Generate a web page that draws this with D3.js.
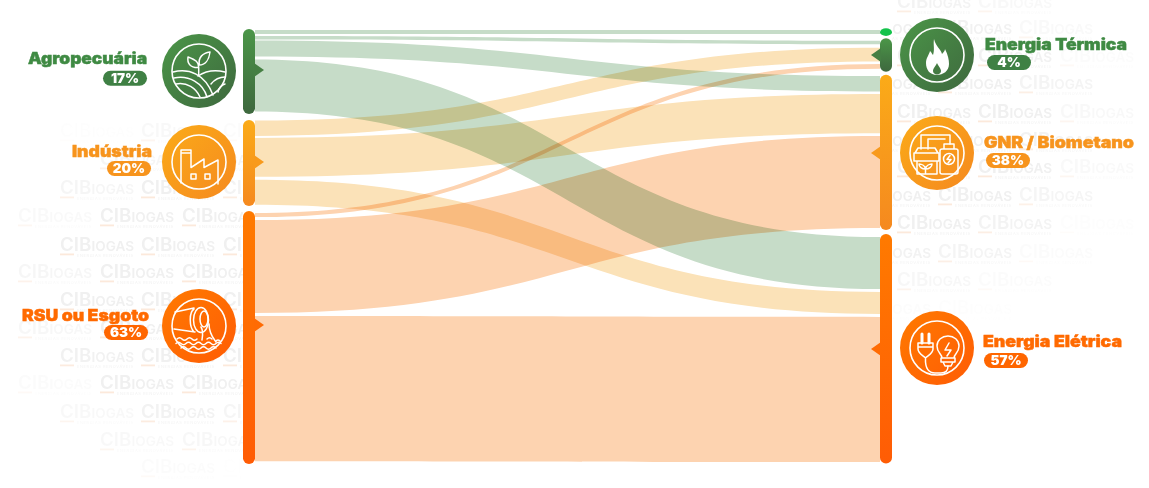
<!DOCTYPE html>
<html lang="pt"><head><meta charset="utf-8">
<script src="https://cdn.jsdelivr.net/npm/d3@7"></script>
<style>html,body{margin:0;padding:0;background:#fff}svg{display:block}text{font-family:Inter,"Open Sans",sans-serif}</style>
</head><body><div id="chart"></div>
<script>
// ---- data ----
const sourceNames = ["Agropecuária", "Indústria", "RSU ou Esgoto"];
const sourceShares = [17, 20, 63];
const targetNames = ["Energia Térmica", "GNR / Biometano", "Energia Elétrica"];
const targetShares = [4, 38, 57];
const linkSources = [0, 0, 0, 0, 1, 1, 1, 2, 2, 2];
const linkTargets = [0, 1, 2, 3, 1, 2, 3, 1, 2, 3];      // target 0 is the small unlabelled pill
const linkValuesAtSource = [1.04, 0.92, 4.15, 13.5, 4.0, 10.1, 6.5, 1.05, 24.15, 37.7];
const linkValuesAtTarget = [1.04, 0.92, 4.0, 13.5, 3.55, 10.2, 5.7, 1.2, 23.9, 37.7];

// ---- layout ----
const W = 1149, H = 488;
const leftX = 255, rightX = 880, barW = 12;
const valueScale = d3.scaleLinear().domain([0, 100]).range([0, 385]);
const sourceTops = [30, 120.5, 213];
const sourceGaps = [[0, 2, 1, 3], [0, 2, 3], [0, 3, 3]];
const targetTops = [30, 40.7, 76, 237];
const targetGaps = [[0], [0, 3.5, 2.7], [0, 2.7, 2.7], [0, 3, 3]];
const sourceBars = [[29, 114], [120, 206], [211, 464]];
const targetBars = [[28.3, 36], [38.3, 71.7], [74.7, 230], [234, 463.5]];
const colorKeys = ["green", "yellow", "orange"];
const linkFill = {green: "#c6dcc8", yellow: "#fbe2b8", orange: "#fdd3b0"};
const textFill = {green: "#3f8a43", yellow: "#f7941d", orange: "#ff6a00"};
const gradStops = {green: ["#4b9648", "#3e683e"], yellow: ["#fbab18", "#f5891f"], orange: ["#ff7a00", "#ff5c05"]};
const targetColors = ["green", "yellow", "orange"];
const sourceCircles = [71, 162, 326], targetCircles = [55, 153, 348];
const sourcePointers = [70, 162, 325], targetPointers = [55, 153, 349];
const sourceLabels = [
  {x0: 28, x1: 147, base: 64, px: 103, pw: 44, py: 70.7},
  {x0: 72, x1: 152, base: 157, px: 107, pw: 44, py: 161},
  {x0: 22, x1: 149, base: 321, px: 104, pw: 44, py: 325}];
const targetLabels = [
  {x0: 985, x1: 1127, base: 50, px: 987, pw: 44, py: 55},
  {x0: 984, x1: 1134, base: 148, px: 986, pw: 44, py: 153},
  {x0: 983, x1: 1122, base: 347, px: 984, pw: 44, py: 353}];

const svg = d3.select("#chart").append("svg").attr("width", W).attr("height", H).attr("viewBox", [0, 0, W, H]);
const defs = svg.append("defs");
colorKeys.forEach(k => {
  const mk = (id, x2, y2) => {
    const g = defs.append("linearGradient").attr("id", id).attr("x1", 0).attr("y1", 0).attr("x2", x2).attr("y2", y2);
    g.append("stop").attr("offset", 0).attr("stop-color", gradStops[k][0]);
    g.append("stop").attr("offset", 1).attr("stop-color", gradStops[k][1]);
  };
  mk("bar-" + k, 0, 1);
  mk("disc-" + k, 1, 1);
});
defs.append("clipPath").attr("id", "wm-clip").selectAll("rect")
  .data([[0, 243], [892, 257]]).join("rect")
  .attr("x", d => d[0]).attr("y", 0).attr("width", d => d[1]).attr("height", H);

// ---- watermark ----
const wmLeftRows = [131, 159, 188, 216, 245, 272, 300, 328, 356, 383, 412, 440, 467];
const wmRightRows = [2, 28, 56, 83, 112, 140, 167, 195, 223, 252, 280, 308];
const wmItems = [];
wmLeftRows.forEach((y, i) => (i % 2 ? [18, 100, 182] : [60, 141, 223]).forEach(x => wmItems.push({x, y, cx: 190, cy: 290, rx: 170, ry: 185})));
wmRightRows.forEach((y, i) => (i % 2 ? [857, 938, 1019] : [897, 978, 1060]).forEach(x => wmItems.push({x, y, cx: 900, cy: 130, rx: 230, ry: 185})));
const wm = svg.append("g").attr("clip-path", "url(#wm-clip)");
wmItems.forEach(d => {
  const r = Math.hypot((d.x + 37 - d.cx) / d.rx, (d.y - d.cy) / d.ry);
  const op = Math.min(1, (1.05 - r) * 2.2);
  if (op <= 0) return;
  const g = wm.append("g").attr("transform", `translate(${d.x},${d.y})`).attr("opacity", op);
  const t = g.append("text").attr("y", 6).attr("fill", "#f0f0f0").attr("font-weight", 600)
    .attr("textLength", 74).attr("lengthAdjust", "spacingAndGlyphs");
  t.append("tspan").attr("font-size", 18).text("CIB");
  t.append("tspan").attr("font-size", 13).text("IOGAS");
  g.append("rect").attr("x", 0).attr("y", 8.5).attr("width", 14).attr("height", 1.8).attr("fill", "#fce9db");
  g.append("text").attr("x", 17).attr("y", 11.5).attr("font-size", 4).attr("fill", "#f1f1f1")
    .attr("textLength", 56).text("ENERGIAS RENOVÁVEIS");
});

// ---- link stacks ----
const sourceCursor = sourceTops.slice(), targetCursor = targetTops.slice();
const sourceSeen = sourceNames.map(() => 0), targetSeen = [0, 0, 0, 0];
const links = linkSources.map((s, i) => {
  const t = linkTargets[i];
  const sv = valueScale(linkValuesAtSource[i]), tv = valueScale(linkValuesAtTarget[i]);
  sourceCursor[s] += sourceGaps[s][sourceSeen[s]++];
  targetCursor[t] += targetGaps[t][targetSeen[t]++];
  const d = {s, t, y0a: sourceCursor[s], y0b: sourceCursor[s] + sv, y1a: targetCursor[t], y1b: targetCursor[t] + tv};
  sourceCursor[s] += sv; targetCursor[t] += tv;
  return d;
});
const edge = d3.linkHorizontal().x(p => p[0]).y(p => p[1]);
const ribbon = d => {
  const top = edge({source: [leftX, d.y0a], target: [rightX, d.y1a]});
  const bot = edge({source: [rightX, d.y1b], target: [leftX, d.y0b]});
  return top + "L" + bot.slice(1) + "Z";
};
svg.append("g").style("isolation", "isolate").selectAll("path").data(links).join("path")
  .attr("d", ribbon).attr("fill", d => linkFill[colorKeys[d.s]]).style("mix-blend-mode", "multiply");

// ---- node bars and pointers ----
const bars = svg.append("g");
const bar = (x, e, fill) => bars.append("rect").attr("x", x).attr("y", e[0]).attr("width", barW)
  .attr("height", e[1] - e[0]).attr("rx", 6).attr("ry", Math.min(5.8, (e[1] - e[0]) / 2)).attr("fill", fill);
sourceBars.forEach((e, i) => {
  const k = colorKeys[i];
  bar(leftX - barW, e, `url(#bar-${k})`);
  const y = sourcePointers[i];
  bars.append("path").attr("d", d3.line()([[leftX - 1, y - 7], [leftX + 9, y], [leftX - 1, y + 7]])).attr("fill", d3.interpolateRgb(...gradStops[k])(0.5));
});
targetBars.forEach((e, i) => {
  if (i === 0) { bar(rightX, e, "#13c34b"); return; }
  const k = targetColors[i - 1];
  bar(rightX, e, `url(#bar-${k})`);
  const y = targetPointers[i - 1];
  bars.append("path").attr("d", d3.line()([[rightX + 1, y - 7], [rightX - 9, y], [rightX + 1, y + 7]])).attr("fill", d3.interpolateRgb(...gradStops[k])(0.5));
});

// ---- icons ----
const icons = {
  farm: `<path d="M-.3,-3.5C-.3,-9 -3,-11 -11,-14C-12,-8 -9,-3 -.3,-3.5ZM.3,-6C6,-6 10,-11 11,-19C4,-18 -1,-14 .3,-6ZM-.3,-4V4"/>
    <path d="M-26,1C-10,-3 6,3 14,24M-25,7C-10,4 4,12 8,26M-23,13C-12,11 -3,17 1,26M-1,5C8,-1 18,-1 26,1M12,13C16,8 21,6 26,6M19,21C20,17 23,14 26,13"/>`,
  factory: `<path d="M-18,21V-12H-8V5.5L5,-3V5.5L19,-2V22M-18,-9H-8"/>
    <rect x="-8" y="12" width="5" height="5"/><rect x="6" y="12" width="5" height="5"/>`,
  pipe: `<ellipse cx="2" cy="-6" rx="7.500" ry="12.500"/><ellipse cx="5" cy="-7" rx="4" ry="8"/>
    <path d="M-24,-14L-5,-18M-25,3L-4,6M-5,-17C-10,-14 -10,1 -5,6M2,1C5,6 3,12 3,14M10,-2C10,8 15,13 17,16"/>
    <path d="M-22,13q2.500,-2.500 5,0t5,0t5,0t5,0M8,13q2.500,-2.500 5,0M17,15q2,-2 4,0M-23,17.500q2.500,-2.500 5,0t5,0t5,0t5,0t5,0t5,0t5,0t5,0t5,0M-18,22q2.500,-2.500 5,0t5,0t5,0t5,0t5,0t5,0t5,0"/>`,
  flame: `<path class="solid" fill-rule="evenodd" d="M-3,-16C-1,-8 4,-6 5,-1C7,-3 8,-5 8,-6C11,0 12,5 12,9C12,16 6,20 0,20C-7,20 -11,15 -11,8C-11,3 -8,0 -7,-4C-5,-2 -5,-1 -4,0C-2,-5 -4,-11 -3,-16ZM0,8C-1,11 -4,13 -4,16C-4,18 -2,19.500 0,19.500C2,19.500 4,18 4,16C4,13 1,11 0,8Z"/>`,
  biogas: `<path d="M-16,-4V-18H13V-9M-9,-4V-14H8"/>
    <path d="M-22,0L-19,-5H-2L1,0ZM-23,0H2V8H-23ZM-20,8V21H0V8M-11.500,20V14M-11.500,16C-12,13 -15,11 -18,11C-18,14 -15,16 -11.500,16ZM-11.500,16C-11,13 -8,11 -5,11C-5,14 -8,16 -11.500,16Z"/>
    <path d="M7,-9H17V-4H7ZM5,-4H19C20,-4 21,-3 21,-2V19C21,20 20,21 19,21H5C4,21 3,20 3,19V-2C3,-3 4,-4 5,-4Z"/>
    <circle cx="12" cy="6" r="5.500"/><path d="M13,2.500L10,6.500H14L11,10"/>`,
  power: `<path d="M-15,-14V-5M-8,-14V-5" style="stroke-width:3"/>
    <path d="M-19,-5H-4V1C-4,5 -8,7 -11.500,10C-15,7 -19,5 -19,1ZM-19,-1H-4M-11.500,10C-12,21 -8,25 -2,25H4C9,25 11,22 11,18"/>
    <path d="M5,10C5,6 0,5 0,-2C0,-8 5,-12 11,-12C17,-12 22,-8 22,-2C22,5 17,6 17,10ZM4,10H18V14H4ZM6,14H16L14,18H8ZM12,-5L8,2H14L10,8"/>`
};
const disc = (cx, cy, k, icon) => {
  const g = svg.append("g").attr("transform", `translate(${cx},${cy})`);
  g.append("circle").attr("r", 37).attr("fill", `url(#disc-${k})`);
  g.append("circle").attr("r", 27).attr("fill", "none").attr("stroke", "#fff").attr("stroke-width", 1.6);
  const ic = g.append("g").attr("fill", "none").attr("stroke", "#fff").attr("stroke-width", 1.5).attr("stroke-linejoin", "round").attr("stroke-linecap", "round").html(icons[icon]);
  ic.selectAll(".solid").attr("fill", "#fff").attr("stroke", "none");
};
["farm", "factory", "pipe"].forEach((ic, i) => disc(199, sourceCircles[i], colorKeys[i], ic));
["flame", "biogas", "power"].forEach((ic, i) => disc(937, targetCircles[i], targetColors[i], ic));

// ---- labels ----
const label = (name, share, l, k) => {
  svg.append("text").attr("x", l.x0).attr("y", l.base).attr("font-size", 16).attr("font-weight", 900)
    .attr("fill", textFill[k]).attr("stroke", textFill[k]).attr("stroke-width", 0.45)
    .attr("textLength", l.x1 - l.x0).attr("lengthAdjust", "spacingAndGlyphs").text(name);
  const fillP = k === "green" ? "#3f8044" : k === "yellow" ? "#f7941d" : "#ff6600";
  svg.append("rect").attr("x", l.px).attr("y", l.py).attr("width", l.pw).attr("height", 15).attr("rx", 7.5).attr("fill", fillP);
  svg.append("text").attr("x", l.px + l.pw / 2).attr("y", l.py + 12).attr("text-anchor", "middle").attr("font-size", 13.5).attr("font-weight", 900).attr("fill", "#fff").text(share + "%");
};
sourceNames.forEach((n, i) => label(n, sourceShares[i], sourceLabels[i], colorKeys[i]));
targetNames.forEach((n, i) => label(n, targetShares[i], targetLabels[i], targetColors[i]));
</script></body></html>
